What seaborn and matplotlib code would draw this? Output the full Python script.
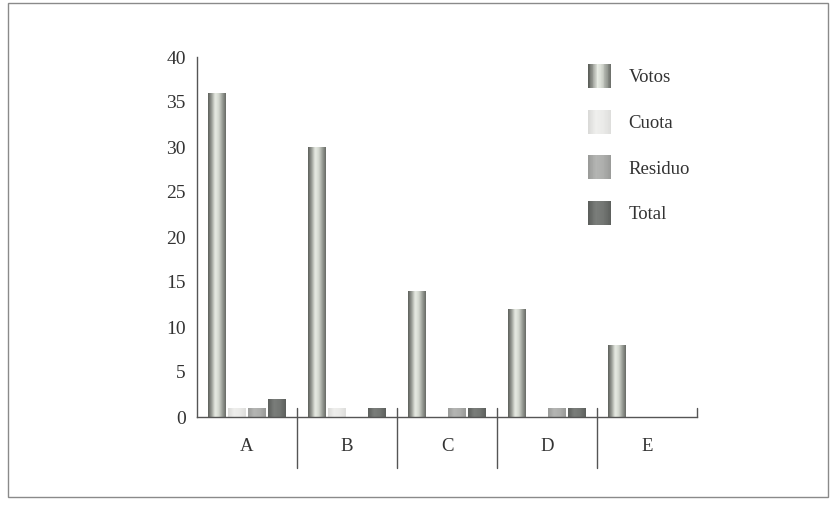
import matplotlib
matplotlib.use("Agg")
import matplotlib.pyplot as plt
import matplotlib.transforms as mtransforms
from matplotlib.colors import LinearSegmentedColormap
from matplotlib.legend_handler import HandlerBase
from matplotlib.patches import Patch, Rectangle
import seaborn as sns
import numpy as np
import pandas as pd

categorias = ['A', 'B', 'C', 'D', 'E']
series = ['Votos', 'Cuota', 'Residuo', 'Total']
votos = [36, 30, 14, 12, 8]
cuota = [1, 1, 0, 0, 0]
residuo = [1, 0, 1, 1, 0]
total = [2, 1, 1, 1, 0]
yticks = [0, 5, 10, 15, 20, 25, 30, 35, 40]

df = pd.DataFrame({
    'Partido': categorias * 4,
    'Serie': np.repeat(series, len(categorias)),
    'Valor': votos + cuota + residuo + total,
})

# cylinder-ish shading for each series (left edge -> right edge)
shades = {
    'Votos': ['#5c5f5a', '#9a9d96', '#e8ece4', '#d3d7cf', '#9ca099', '#676a65'],
    'Cuota': ['#dadad8', '#efefed', '#eaeae8', '#dddddb'],
    'Residuo': ['#9a9b99', '#b4b5b3', '#adaeac', '#999a98'],
    'Total': ['#5c5f5c', '#7a7d7a', '#737673', '#5c5f5c'],
}
cmaps = {k: LinearSegmentedColormap.from_list(k, v) for k, v in shades.items()}
palette = {k: v[2] for k, v in shades.items()}

sns.set_style('white')
plt.rcParams['font.family'] = ['Liberation Serif', 'DejaVu Serif']

fig = plt.figure(figsize=(8.34, 5.05), dpi=100)
ax = fig.add_axes([197 / 834, 1 - 417 / 505, 500 / 834, 360 / 505])

sns.barplot(data=df, x='Partido', y='Valor', hue='Serie', hue_order=series,
            order=categorias, palette=palette, width=0.8, legend=False, ax=ax)

# replace flat bars with slightly narrower gradient images
grad = np.linspace(0, 1, 64).reshape(1, -1)
for name, cont in zip(series, ax.containers):
    for bar in cont:
        h = bar.get_height()
        bar.set_facecolor('none')
        bar.set_edgecolor('none')
        if h <= 0:
            continue
        w = bar.get_width()
        x0 = bar.get_x() + w * 0.05
        ax.imshow(grad, cmap=cmaps[name], aspect='auto', extent=[x0, x0 + w * 0.9, 0, h],
                  zorder=2, interpolation='bicubic')

ax.set_xlim(-0.5, 4.5)
ax.set_ylim(0, 40)
ax.set_yticks(yticks)
ax.set_xlabel('')
ax.set_ylabel('')

axis_col = '#555555'
for side in ['top', 'right']:
    ax.spines[side].set_visible(False)
for side in ['left', 'bottom']:
    ax.spines[side].set_color(axis_col)
    ax.spines[side].set_linewidth(1.0)

ax.tick_params(axis='y', direction='in', length=7, width=1, color=axis_col,
               labelsize=14, labelcolor='#333333', pad=8)
ax.tick_params(axis='x', length=0, labelsize=13.5, labelcolor='#333333', pad=15)

# separators between categories and small end tick
trans = mtransforms.blended_transform_factory(ax.transData, ax.transAxes)
for xs in [0.5, 1.5, 2.5, 3.5]:
    ax.plot([xs, xs], [0.025, -0.142], color=axis_col, lw=1, transform=trans, clip_on=False)
ax.plot([4.5, 4.5], [0, 0.025], color=axis_col, lw=1, transform=trans, clip_on=False)


class GradientHandler(HandlerBase):
    def __init__(self, cmap):
        super().__init__()
        self.cmap = cmap

    def create_artists(self, legend, orig_handle, xdescent, ydescent, width, height,
                       fontsize, trans):
        n = 30
        arts = []
        for i in range(n):
            r = Rectangle((-xdescent + width * i / n, -ydescent), width / n * 1.05, height,
                          facecolor=self.cmap(i / (n - 1)), edgecolor='none',
                          transform=trans)
            arts.append(r)
        return arts


handles = [Patch(label=s) for s in series]
hmap = {h: GradientHandler(cmaps[s]) for h, s in zip(handles, series)}
fig.legend(handles=handles, handler_map=hmap, loc='upper left',
           bbox_to_anchor=(588 / 834, 1 - 64 / 505), frameon=False,
           fontsize=13.5, handlelength=1.25, handleheight=1.6, labelspacing=1.15,
           handletextpad=0.9, borderpad=0, borderaxespad=0, labelcolor='#333333')

# outer frame of the figure
fig.patches.append(Rectangle((8 / 834, 8 / 505), 820 / 834, 494 / 505,
                             transform=fig.transFigure, fill=False,
                             edgecolor='#8a8a8a', lw=1))

fig.savefig('out.png', dpi=100)
